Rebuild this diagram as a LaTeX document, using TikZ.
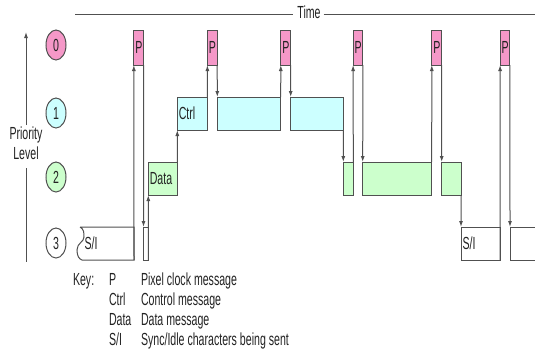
\documentclass[tikz,border=0pt]{standalone}
\usepackage{fontspec}
\setmainfont{Liberation Sans}
\usetikzlibrary{arrows.meta,shapes.geometric}
\definecolor{lc}{RGB}{80,80,80}
\definecolor{pinkf}{RGB}{245,152,200}
\definecolor{cyanf}{RGB}{204,255,255}
\definecolor{greenf}{RGB}{204,255,204}
\definecolor{txtc}{RGB}{35,35,35}
\newcommand{\vst}[1]{\scalebox{1}[1.65]{#1}}
\begin{document}
\begin{tikzpicture}[x=1bp,y=-1bp,
  every node/.style={font=\fontsize{10.6bp}{12bp}\selectfont, text=txtc, inner sep=0pt, outer sep=0pt},
  ln/.style={draw=lc, line width=1bp},
  ar/.style={ln, -{Latex[length=6bp,width=4bp]}},
  blk/.style={ln, minimum height=33bp},
  pbox/.style={blk, fill=pinkf, minimum height=35bp, minimum width=9.8bp},
  cbox/.style={blk, fill=cyanf},
  gbox/.style={blk, fill=greenf},
  wbox/.style={blk, fill=white},
  ghost/.style={draw=none, minimum height=33bp},
  lvl/.style={ln, ellipse, minimum width=20bp, minimum height=30bp},
  inl/.style={anchor=west, inner sep=1.5bp},
  keyt/.style={anchor=base west}
]
\useasboundingbox[fill=white] (0,0) rectangle (535,351);

% time axis
\node (time) at (309,12) {\vst{Time}};
\coordinate (t0) at (75,14);
\coordinate (t1) at (535,14);
\draw[ln] (t0) -- ([xshift=-4bp]t0 -| time.west);
\draw[ln] ([xshift=3bp]t1 -| time.east) -- (t1);

% priority axis
\node (prio) at (26,135) {\vst{Priority}};
\node (levl) at (26,153) {\vst{Level}};
\coordinate (pa0) at (26,125);
\coordinate (pa1) at (26,32);
\coordinate (pb0) at (26,168);
\coordinate (pb1) at (26,262);
\draw[ar] (pa0) -- (pa1);
\draw[ln] (pb0) -- (pb1);

% level markers
\node[lvl, fill=pinkf]  (l0) at (56,45)  {\vst{0}};
\node[lvl, fill=cyanf]  (l1) at (56,113) {\vst{1}};
\node[lvl, fill=greenf] (l2) at (56,177) {\vst{2}};
\node[lvl, fill=white]  (l3) at (56,243) {\vst{3}};

% level 0 : pixel clock messages
\node[pbox, label={[inl]west:\vst{P}}] (p1) at (138.75,47.5) {};
\node[pbox, label={[inl]west:\vst{P}}] (p2) at (212.3,47.5) {};
\node[pbox, label={[inl]west:\vst{P}}] (p3) at (285.7,47.5) {};
\node[pbox, label={[inl]west:\vst{P}}] (p4) at (358.0,47.5) {};
\node[pbox, label={[inl]west:\vst{P}}] (p5) at (436.7,47.5) {};
\node[pbox, label={[inl]west:\vst{P}}] (p6) at (505.0,47.5) {};

% level 1 : control
\node[cbox, minimum width=30bp, label={[inl]west:\vst{Ctrl}}] (ctrl) at (192.3,113.5) {};
\node[cbox, minimum width=63.4bp] (c2) at (249.0,113.5) {};
\node[cbox, minimum width=52.6bp] (c3) at (317.0,113.5) {};

% level 2 : data
\node[gbox, minimum width=29bp, label={[inl]west:\vst{Data}}] (data) at (162.8,178.5) {};
\node[gbox, minimum width=10bp] (g1) at (348.3,178.5) {};
\node[gbox, minimum width=69bp] (g2) at (397.2,178.5) {};
\node[gbox, minimum width=19.3bp] (g3) at (451.35,178.5) {};

% level 3 : sync / idle
\node[ghost, minimum width=54bp] (si1) at (107,243.5) {};
\draw[ln] (si1.north west) -- (si1.north east) -- (si1.south east) -- ([xshift=2bp]si1.south west)
  .. controls (79,259) and (77,256) .. (77,250)
  .. controls (77,243) and (84,242) .. (84,237)
  .. controls (84,233) and (84,229) .. (si1.north west);
\node[inl] at ([xshift=3bp]si1.west) {\vst{S/I}};
\node[wbox, minimum width=4.8bp] (sm1) at (145.9,243.5) {};
\node[wbox, minimum width=39bp, label={[inl]west:\vst{S/I}}] (si2) at (480.5,243.5) {};
\node[ghost, minimum width=26bp] (si3) at (523,243.5) {};
\draw[ln] (si3.north east) -- (si3.north west) -- (si3.south west) -- (si3.south east);

% transitions
\draw[ar] (si1.south east) -- (p1.south west);
\draw[ar] (p1.south east) -- (sm1.north west);
\draw[ar] (sm1.south east) -- (data.south west);
\draw[ar] (data.north east) -- (ctrl.south west);
\draw[ar] (ctrl.north east) -- (p2.south west);
\draw[ar] (p2.south east) -- (c2.north west);
\draw[ar] (c2.north east) -- (p3.south west);
\draw[ar] (p3.south east) -- (c3.north west);
\draw[ar] (c3.south east) -- (g1.north west);
\draw[ar] (g1.north east) -- (p4.south west);
\draw[ar] (p4.south east) -- (g2.north west);
\draw[ar] (g2.north east) -- (p5.south west);
\draw[ar] (p5.south east) -- (g3.north west);
\draw[ar] (g3.south east) -- (si2.north west);
\draw[ar] (si2.south east) -- (p6.south west);
\draw[ar] (p6.south east) -- (si3.north west);

% key
\node[keyt] (k0) at (73,285) {\vst{Key:}};
\node[keyt] (k1a) at (109,285) {\vst{P}};
\node[keyt] (k1b) at (141,285) {\vst{Pixel clock message}};
\node[keyt] (k2a) at (109,305) {\vst{Ctrl}};
\node[keyt] (k2b) at (141,305) {\vst{Control message}};
\node[keyt] (k3a) at (109,325) {\vst{Data}};
\node[keyt] (k3b) at (141,325) {\vst{Data message}};
\node[keyt] (k4a) at (109,345) {\vst{S/I}};
\node[keyt] (k4b) at (141,345) {\vst{Sync/Idle characters being sent}};
\end{tikzpicture}
\end{document}
